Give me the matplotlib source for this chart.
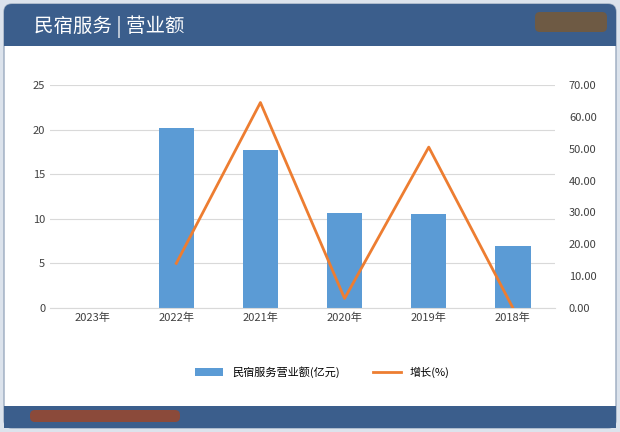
import matplotlib
matplotlib.use('Agg')
import matplotlib.pyplot as plt
from matplotlib.patches import FancyBboxPatch, Rectangle
import numpy as np

plt.rcParams['font.family'] = ['Noto Sans CJK SC', 'DejaVu Sans']

years = ['2023年', '2022年', '2021年', '2020年', '2019年', '2018年']
revenue = [0, 20.2, 17.7, 10.7, 10.5, 7.0]
growth = [np.nan, 14.0, 64.5, 3.0, 50.5, 0.0]

HEADER = '#3B5E8C'
BAR = '#5B9BD5'
LINE = '#ED7D31'

fig = plt.figure(figsize=(6.2, 4.32), dpi=100)
fig.patch.set_facecolor('#DCE3EC')

# white card + header/footer bands
bg = fig.add_axes([0, 0, 1, 1])
bg.set_xlim(0, 620)
bg.set_ylim(432, 0)
bg.axis('off')
bg.add_patch(FancyBboxPatch((4, 4), 612, 424, boxstyle='round,pad=0,rounding_size=8',
                            facecolor='white', edgecolor='#9AAABF', linewidth=1))
bg.add_patch(FancyBboxPatch((4, 4), 612, 42, boxstyle='round,pad=0,rounding_size=8',
                            facecolor=HEADER, edgecolor='none'))
bg.add_patch(Rectangle((4, 30), 612, 16, facecolor=HEADER, edgecolor='none'))
bg.add_patch(Rectangle((4, 406), 612, 22, facecolor=HEADER, edgecolor='none'))
bg.add_patch(FancyBboxPatch((30, 410), 150, 12, boxstyle='round,pad=0,rounding_size=5',
                            facecolor='#8B4A3A', edgecolor='none'))
bg.add_patch(FancyBboxPatch((535, 12), 72, 20, boxstyle='round,pad=0,rounding_size=5',
                            facecolor='#6E5A44', edgecolor='none'))
bg.text(34, 27, '民宿服务 | 营业额', color='white', fontsize=14, va='center', ha='left')

ax = fig.add_axes([50 / 620, 1 - 308 / 432, 505 / 620, 223 / 432])
x = np.arange(len(years))
ax.bar(x, revenue, width=0.42, color=BAR, label='民宿服务营业额(亿元)')
ax.set_ylim(0, 25)
ax.set_yticks(range(0, 26, 5))
ax.set_xlim(-0.5, len(years) - 0.5)
ax.set_xticks(x)
ax.set_xticklabels(years)
ax.yaxis.grid(True, color='#D9D9D9', linewidth=0.8)
ax.set_axisbelow(True)
for s in ['top', 'right', 'left']:
    ax.spines[s].set_visible(False)
ax.spines['bottom'].set_color('#D9D9D9')
ax.tick_params(length=0, labelsize=8, colors='#404040')

ax2 = ax.twinx()
ax2.plot(x, growth, color=LINE, linewidth=2, label='增长(%)')
ax2.set_ylim(0, 70)
ax2.set_yticks(range(0, 71, 10))
ax2.set_yticklabels([f'{v:.2f}' for v in range(0, 71, 10)])
for s in ax2.spines.values():
    s.set_visible(False)
ax2.tick_params(length=0, labelsize=8, colors='#404040', pad=10)

h1, l1 = ax.get_legend_handles_labels()
h2, l2 = ax2.get_legend_handles_labels()
fig.legend(h1 + h2, l1 + l2, loc='center', bbox_to_anchor=(0.52, 1 - 372 / 432),
           ncol=2, frameon=False, fontsize=8, columnspacing=3, handlelength=2.5)

fig.savefig('out.png', dpi=100, facecolor=fig.get_facecolor())
